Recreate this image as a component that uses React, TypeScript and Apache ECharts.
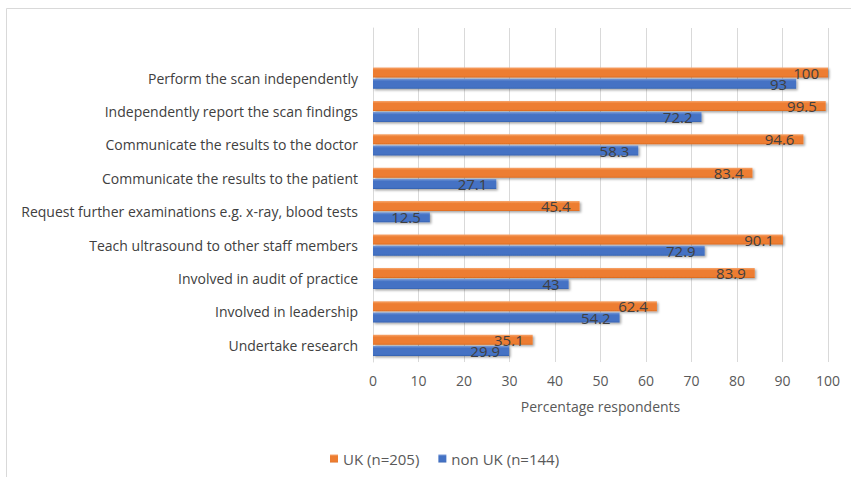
import React, { useEffect, useRef } from "react";
import * as echarts from "echarts";

const categories = [
  "",
  "Perform the scan independently",
  "Independently report the scan findings",
  "Communicate the results to the doctor",
  "Communicate the results to the patient",
  "Request further examinations e.g. x-ray, blood tests",
  "Teach ultrasound to other staff members",
  "Involved in audit of practice",
  "Involved in leadership",
  "Undertake research",
];
const ukValues = [null, 100, 99.5, 94.6, 83.4, 45.4, 90.1, 83.9, 62.4, 35.1];
const nonUkValues = [null, 93, 72.2, 58.3, 27.1, 12.5, 72.9, 43, 54.2, 29.9];
const seriesNames = ["UK (n=205)", "non UK (n=144)"];
const xTicks = [0, 10, 20, 30, 40, 50, 60, 70, 80, 90, 100];

const FONT = "'Open Sans', sans-serif";

function grad(light: string, main: string, dark: string) {
  return new echarts.graphic.LinearGradient(0, 0, 0, 1, [
    { offset: 0, color: light },
    { offset: 0.25, color: main },
    { offset: 0.85, color: main },
    { offset: 1, color: dark },
  ]);
}

export default function App() {
  const ref = useRef<HTMLDivElement>(null);
  useEffect(() => {
    if (!ref.current) return;
    const chart = echarts.init(ref.current, undefined, { renderer: "svg" });
    const labelCfg = {
      show: true,
      position: "insideRight" as const,
      distance: 9,
      color: "#404040",
      fontSize: 15,
      fontFamily: FONT,
      formatter: (p: any) => (p.value == null ? "" : String(p.value)),
    };
    chart.setOption({
      animation: false,
      textStyle: { fontFamily: FONT },
      graphic: [
        {
          type: "rect",
          shape: { x: 6.5, y: 8.5, width: 900, height: 500 },
          style: { fill: "none", stroke: "#d9d9d9", lineWidth: 1 },
          silent: true,
        },
      ],
      legend: {
        data: seriesNames,
        left: 325,
        top: 446,
        icon: "rect",
        itemWidth: 8,
        itemHeight: 8,
        itemGap: 19,
        textStyle: { color: "#595959", fontSize: 15, fontFamily: FONT },
      },
      grid: { left: 373, right: 23, top: 28, bottom: 115, containLabel: false },
      xAxis: {
        type: "value",
        min: 0,
        max: 100,
        interval: 10,
        name: "Percentage respondents",
        nameLocation: "middle",
        nameGap: 37,
        nameTextStyle: { color: "#595959", fontSize: 14, fontFamily: FONT },
        axisLine: { show: false },
        axisTick: { show: false },
        axisLabel: {
          color: "#595959",
          fontSize: 14,
          fontFamily: FONT,
          margin: 11,
          formatter: (v: number) => (xTicks.includes(v) ? String(v) : ""),
        },
        splitLine: { show: true, lineStyle: { color: "#d9d9d9", width: 1 } },
      },
      yAxis: {
        type: "category",
        data: categories,
        inverse: true,
        axisLine: { show: true, lineStyle: { color: "#d9d9d9" } },
        axisTick: { show: false },
        axisLabel: {
          color: "#404040",
          fontSize: 14,
          fontFamily: FONT,
          margin: 15,
        },
      },
      series: [
        {
          name: seriesNames[0],
          type: "bar",
          data: ukValues,
          barWidth: 10,
          barGap: "12%",
          itemStyle: {
            color: grad("#F7A66E", "#ED7D31", "#D9691F"),
            shadowColor: "rgba(0,0,0,0.35)",
            shadowBlur: 2,
            shadowOffsetX: 1.5,
            shadowOffsetY: 1.5,
          },
          label: labelCfg,
        },
        {
          name: seriesNames[1],
          type: "bar",
          data: nonUkValues,
          barWidth: 10,
          barGap: "12%",
          itemStyle: {
            color: grad("#7A9BD8", "#4472C4", "#3560AE"),
            shadowColor: "rgba(0,0,0,0.35)",
            shadowBlur: 2,
            shadowOffsetX: 1.5,
            shadowOffsetY: 1.5,
          },
          label: labelCfg,
        },
      ],
    });
    return () => chart.dispose();
  }, []);
  return (
    <div
      ref={ref}
      style={{ position: "absolute", left: 0, top: 0, width: 851, height: 477 }}
    />
  );
}
